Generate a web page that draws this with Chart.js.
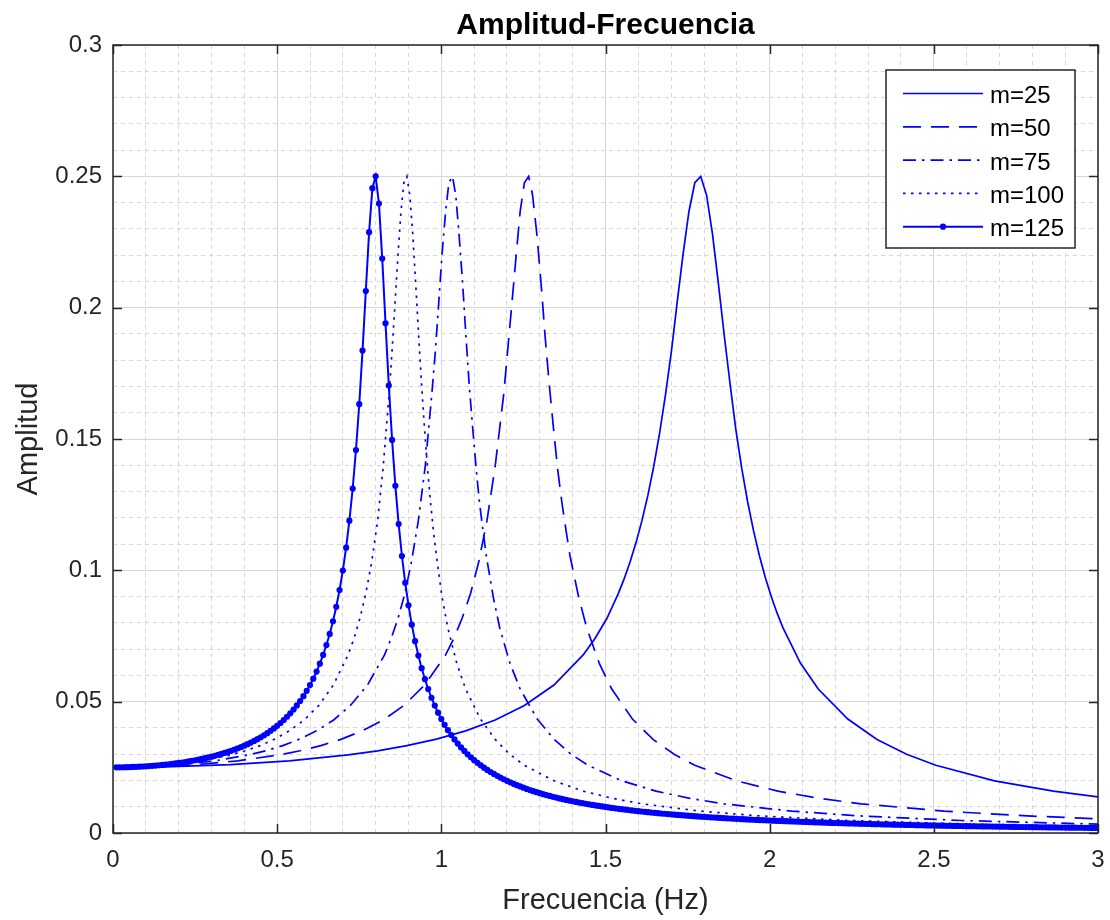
<!DOCTYPE html>
<html>
<head>
<meta charset="utf-8">
<title>Amplitud-Frecuencia</title>
<script src="https://cdn.jsdelivr.net/npm/chart.js"></script>
<style>
  html, body { margin: 0; padding: 0; background: #fff; }
  canvas { display: block; }
</style>
</head>
<body>
<canvas id="grafica" width="1110" height="920"></canvas>
<script>
// Valores (frecuencia en Hz, amplitud)
const etiquetas = ['m=25', 'm=50', 'm=75', 'm=100', 'm=125'];
const xTicks = [0, 0.5, 1, 1.5, 2, 2.5, 3];
const yTicks = [0, 0.05, 0.1, 0.15, 0.2, 0.25, 0.3];

const freq25 = [0.01, 0.179, 0.358, 0.537, 0.716, 0.806, 0.895, 0.985, 1.074, 1.164,
  1.253, 1.343, 1.432, 1.468, 1.504, 1.539, 1.557, 1.575, 1.593, 1.611,
  1.629, 1.647, 1.665, 1.683, 1.701, 1.718, 1.736, 1.754, 1.772, 1.790,
  1.808, 1.826, 1.844, 1.862, 1.880, 1.897, 1.915, 1.933, 1.951, 1.969,
  1.987, 2.005, 2.023, 2.041, 2.094, 2.148, 2.238, 2.327, 2.417, 2.506,
  2.685, 2.864, 3.0];
const amp25 = [0.02500, 0.02525, 0.02604, 0.02746, 0.02973, 0.03130, 0.03326, 0.03573, 0.03889, 0.04302,
  0.04856, 0.05632, 0.06779, 0.07403, 0.08166, 0.09116, 0.09682, 0.10324, 0.11055, 0.11891,
  0.12853, 0.13963, 0.15242, 0.16709, 0.18365, 0.20170, 0.22009, 0.23652, 0.24757, 0.25000,
  0.24277, 0.22787, 0.20893, 0.18912, 0.17037, 0.15354, 0.13879, 0.12602, 0.11500, 0.10546,
  0.09717, 0.08994, 0.08359, 0.07799, 0.06460, 0.05482, 0.04339, 0.03561, 0.02999, 0.02577,
  0.01986, 0.01594, 0.01377];

const freq50 = [0.01, 0.127, 0.253, 0.380, 0.506, 0.570, 0.633, 0.696, 0.759, 0.823,
  0.886, 0.949, 1.013, 1.038, 1.063, 1.089, 1.114, 1.139, 1.164, 1.190,
  1.202, 1.215, 1.228, 1.240, 1.253, 1.266, 1.278, 1.291, 1.304, 1.316,
  1.329, 1.342, 1.354, 1.367, 1.380, 1.392, 1.418, 1.443, 1.481, 1.519,
  1.582, 1.645, 1.709, 1.772, 1.899, 2.025, 2.152, 2.278, 2.531, 2.785, 3.0];
const amp50 = [0.02500, 0.02525, 0.02604, 0.02746, 0.02973, 0.03130, 0.03326, 0.03573, 0.03889, 0.04302,
  0.04856, 0.05632, 0.06779, 0.07403, 0.08166, 0.09116, 0.10324, 0.11891, 0.13963, 0.16709,
  0.18365, 0.20170, 0.22009, 0.23652, 0.24757, 0.25000, 0.24277, 0.22787, 0.20893, 0.18912,
  0.17037, 0.15354, 0.13879, 0.12602, 0.11500, 0.10546, 0.08994, 0.07799, 0.06460, 0.05482,
  0.04339, 0.03561, 0.02999, 0.02577, 0.01986, 0.01594, 0.01317, 0.01112, 0.00832, 0.00650, 0.00541];

const freq75 = [0.01, 0.103, 0.207, 0.310, 0.413, 0.465, 0.517, 0.568, 0.620, 0.672,
  0.723, 0.775, 0.827, 0.847, 0.868, 0.889, 0.909, 0.930, 0.951, 0.971,
  0.982, 0.992, 1.002, 1.013, 1.023, 1.034, 1.044, 1.054, 1.065, 1.075,
  1.085, 1.096, 1.106, 1.116, 1.127, 1.137, 1.158, 1.178, 1.209, 1.240,
  1.292, 1.344, 1.395, 1.447, 1.550, 1.654, 1.757, 1.860, 2.067, 2.274, 2.584, 3.0];
const amp75 = [0.02500, 0.02525, 0.02604, 0.02746, 0.02973, 0.03130, 0.03326, 0.03573, 0.03889, 0.04302,
  0.04856, 0.05632, 0.06779, 0.07403, 0.08166, 0.09116, 0.10324, 0.11891, 0.13963, 0.16709,
  0.18365, 0.20170, 0.22009, 0.23652, 0.24757, 0.25000, 0.24277, 0.22787, 0.20893, 0.18912,
  0.17037, 0.15354, 0.13879, 0.12602, 0.11500, 0.10546, 0.08994, 0.07799, 0.06460, 0.05482,
  0.04339, 0.03561, 0.02999, 0.02577, 0.01986, 0.01594, 0.01317, 0.01112, 0.00832, 0.00650, 0.00476, 0.00336];

const freq100 = [0.01, 0.090, 0.179, 0.269, 0.358, 0.403, 0.448, 0.492, 0.537, 0.582,
  0.627, 0.671, 0.716, 0.734, 0.752, 0.770, 0.788, 0.806, 0.823, 0.841,
  0.850, 0.859, 0.868, 0.877, 0.886, 0.895, 0.904, 0.913, 0.922, 0.931,
  0.940, 0.949, 0.958, 0.967, 0.976, 0.985, 1.002, 1.020, 1.047, 1.074,
  1.119, 1.164, 1.208, 1.253, 1.343, 1.432, 1.522, 1.611, 1.790, 1.969, 2.238, 2.685, 3.0];
const amp100 = [0.02500, 0.02525, 0.02604, 0.02746, 0.02973, 0.03130, 0.03326, 0.03573, 0.03889, 0.04302,
  0.04856, 0.05632, 0.06779, 0.07403, 0.08166, 0.09116, 0.10324, 0.11891, 0.13963, 0.16709,
  0.18365, 0.20170, 0.22009, 0.23652, 0.24757, 0.25000, 0.24277, 0.22787, 0.20893, 0.18912,
  0.17037, 0.15354, 0.13879, 0.12602, 0.11500, 0.10546, 0.08994, 0.07799, 0.06460, 0.05482,
  0.04339, 0.03561, 0.02999, 0.02577, 0.01986, 0.01594, 0.01317, 0.01112, 0.00832, 0.00650, 0.00476, 0.00312, 0.00244];

const freq125 = [0.01, 0.02, 0.03, 0.04, 0.05, 0.06, 0.07, 0.08, 0.09, 0.10,
  0.11, 0.12, 0.13, 0.14, 0.15, 0.16, 0.17, 0.18, 0.19, 0.20,
  0.21, 0.22, 0.23, 0.24, 0.25, 0.26, 0.27, 0.28, 0.29, 0.30,
  0.31, 0.32, 0.33, 0.34, 0.35, 0.36, 0.37, 0.38, 0.39, 0.40,
  0.41, 0.42, 0.43, 0.44, 0.45, 0.46, 0.47, 0.48, 0.49, 0.50,
  0.51, 0.52, 0.53, 0.54, 0.55, 0.56, 0.57, 0.58, 0.59, 0.60,
  0.61, 0.62, 0.63, 0.64, 0.65, 0.66, 0.67, 0.68, 0.69, 0.70,
  0.71, 0.72, 0.73, 0.74, 0.75, 0.76, 0.77, 0.78, 0.79, 0.80,
  0.81, 0.82, 0.83, 0.84, 0.85, 0.86, 0.87, 0.88, 0.89, 0.90,
  0.91, 0.92, 0.93, 0.94, 0.95, 0.96, 0.97, 0.98, 0.99, 1.00,
  1.01, 1.02, 1.03, 1.04, 1.05, 1.06, 1.07, 1.08, 1.09, 1.10,
  1.11, 1.12, 1.13, 1.14, 1.15, 1.16, 1.17, 1.18, 1.19, 1.20,
  1.21, 1.22, 1.23, 1.24, 1.25, 1.26, 1.27, 1.28, 1.29, 1.30,
  1.31, 1.32, 1.33, 1.34, 1.35, 1.36, 1.37, 1.38, 1.39, 1.40,
  1.41, 1.42, 1.43, 1.44, 1.45, 1.46, 1.47, 1.48, 1.49, 1.50,
  1.51, 1.52, 1.53, 1.54, 1.55, 1.56, 1.57, 1.58, 1.59, 1.60,
  1.61, 1.62, 1.63, 1.64, 1.65, 1.66, 1.67, 1.68, 1.69, 1.70,
  1.71, 1.72, 1.73, 1.74, 1.75, 1.76, 1.77, 1.78, 1.79, 1.80,
  1.81, 1.82, 1.83, 1.84, 1.85, 1.86, 1.87, 1.88, 1.89, 1.90,
  1.91, 1.92, 1.93, 1.94, 1.95, 1.96, 1.97, 1.98, 1.99, 2.00,
  2.01, 2.02, 2.03, 2.04, 2.05, 2.06, 2.07, 2.08, 2.09, 2.10,
  2.11, 2.12, 2.13, 2.14, 2.15, 2.16, 2.17, 2.18, 2.19, 2.20,
  2.21, 2.22, 2.23, 2.24, 2.25, 2.26, 2.27, 2.28, 2.29, 2.30,
  2.31, 2.32, 2.33, 2.34, 2.35, 2.36, 2.37, 2.38, 2.39, 2.40,
  2.41, 2.42, 2.43, 2.44, 2.45, 2.46, 2.47, 2.48, 2.49, 2.50,
  2.51, 2.52, 2.53, 2.54, 2.55, 2.56, 2.57, 2.58, 2.59, 2.60,
  2.61, 2.62, 2.63, 2.64, 2.65, 2.66, 2.67, 2.68, 2.69, 2.70,
  2.71, 2.72, 2.73, 2.74, 2.75, 2.76, 2.77, 2.78, 2.79, 2.80,
  2.81, 2.82, 2.83, 2.84, 2.85, 2.86, 2.87, 2.88, 2.89, 2.90,
  2.91, 2.92, 2.93, 2.94, 2.95, 2.96, 2.97, 2.98, 2.99, 3.00];
const amp125 = [0.02500, 0.02502, 0.02504, 0.02506, 0.02510, 0.02514, 0.02519, 0.02525, 0.02532, 0.02540,
  0.02548, 0.02557, 0.02568, 0.02579, 0.02591, 0.02604, 0.02618, 0.02633, 0.02649, 0.02666,
  0.02684, 0.02703, 0.02724, 0.02746, 0.02769, 0.02793, 0.02819, 0.02847, 0.02876, 0.02906,
  0.02939, 0.02973, 0.03009, 0.03047, 0.03087, 0.03130, 0.03175, 0.03222, 0.03273, 0.03326,
  0.03382, 0.03442, 0.03506, 0.03573, 0.03645, 0.03721, 0.03802, 0.03889, 0.03982, 0.04081,
  0.04188, 0.04302, 0.04425, 0.04558, 0.04701, 0.04856, 0.05025, 0.05210, 0.05411, 0.05632,
  0.05876, 0.06145, 0.06445, 0.06779, 0.07155, 0.07579, 0.08062, 0.08614, 0.09251, 0.09993,
  0.10863, 0.11891, 0.13116, 0.14580, 0.16325, 0.18365, 0.20634, 0.22875, 0.24551, 0.25000,
  0.23962, 0.21868, 0.19403, 0.17037, 0.14966, 0.13218, 0.11760, 0.10546, 0.09527, 0.08667,
  0.07933, 0.07302, 0.06754, 0.06276, 0.05855, 0.05482, 0.05149, 0.04851, 0.04582, 0.04339,
  0.04117, 0.03916, 0.03731, 0.03561, 0.03404, 0.03259, 0.03124, 0.02999, 0.02883, 0.02774,
  0.02672, 0.02577, 0.02487, 0.02403, 0.02323, 0.02248, 0.02177, 0.02110, 0.02046, 0.01986,
  0.01928, 0.01874, 0.01821, 0.01772, 0.01724, 0.01679, 0.01636, 0.01594, 0.01555, 0.01516,
  0.01480, 0.01445, 0.01411, 0.01379, 0.01347, 0.01317, 0.01289, 0.01261, 0.01234, 0.01208,
  0.01183, 0.01159, 0.01135, 0.01113, 0.01091, 0.01069, 0.01049, 0.01029, 0.01010, 0.00991,
  0.00973, 0.00955, 0.00938, 0.00922, 0.00906, 0.00890, 0.00875, 0.00860, 0.00846, 0.00832,
  0.00818, 0.00805, 0.00792, 0.00779, 0.00767, 0.00755, 0.00743, 0.00732, 0.00721, 0.00710,
  0.00699, 0.00689, 0.00679, 0.00669, 0.00659, 0.00650, 0.00641, 0.00632, 0.00623, 0.00614,
  0.00606, 0.00598, 0.00590, 0.00582, 0.00574, 0.00567, 0.00559, 0.00552, 0.00545, 0.00538,
  0.00531, 0.00525, 0.00518, 0.00512, 0.00505, 0.00499, 0.00493, 0.00487, 0.00481, 0.00476,
  0.00470, 0.00465, 0.00460, 0.00454, 0.00449, 0.00444, 0.00439, 0.00434, 0.00429, 0.00424,
  0.00420, 0.00415, 0.00411, 0.00406, 0.00402, 0.00397, 0.00393, 0.00389, 0.00385, 0.00381,
  0.00377, 0.00373, 0.00369, 0.00366, 0.00362, 0.00358, 0.00355, 0.00351, 0.00348, 0.00344,
  0.00341, 0.00337, 0.00334, 0.00331, 0.00328, 0.00325, 0.00322, 0.00318, 0.00316, 0.00313,
  0.00310, 0.00307, 0.00304, 0.00301, 0.00298, 0.00296, 0.00293, 0.00290, 0.00288, 0.00285,
  0.00283, 0.00280, 0.00278, 0.00275, 0.00273, 0.00271, 0.00268, 0.00266, 0.00264, 0.00261,
  0.00259, 0.00257, 0.00255, 0.00253, 0.00251, 0.00249, 0.00247, 0.00245, 0.00243, 0.00241,
  0.00239, 0.00237, 0.00235, 0.00233, 0.00231, 0.00229, 0.00228, 0.00226, 0.00224, 0.00222,
  0.00221, 0.00219, 0.00217, 0.00216, 0.00214, 0.00212, 0.00211, 0.00209, 0.00208, 0.00206,
  0.00204, 0.00203, 0.00201, 0.00200, 0.00199, 0.00197, 0.00196, 0.00194, 0.00193, 0.00191];

const FUENTE = '"Liberation Sans", Arial, Helvetica, sans-serif';
const AZUL = '#0000ff';
const GRIS = '#262626';

Chart.defaults.font.family = FUENTE;
Chart.defaults.color = GRIS;

const puntos = (fs, as) => fs.map((f, i) => ({ x: f, y: as[i] }));
const esMayor = (v, lista) => v !== undefined && lista.some(t => Math.abs(t - v) < 1e-6);

// marco con ticks hacia dentro (estilo MATLAB)
const marcoPlugin = {
    id: 'marco',
    afterDraw(chart) {
        const { ctx, chartArea: a, scales: { x, y } } = chart;
        ctx.save();
        ctx.strokeStyle = GRIS;
        ctx.lineWidth = 1.5;
        ctx.beginPath();
        xTicks.forEach(v => {
            const px = Math.round(x.getPixelForValue(v)) + 0.5;
            ctx.moveTo(px, a.bottom); ctx.lineTo(px, a.bottom - 9);
            ctx.moveTo(px, a.top); ctx.lineTo(px, a.top + 9);
        });
        yTicks.forEach(v => {
            const py = Math.round(y.getPixelForValue(v)) + 0.5;
            ctx.moveTo(a.left, py); ctx.lineTo(a.left + 9, py);
            ctx.moveTo(a.right, py); ctx.lineTo(a.right - 9, py);
        });
        ctx.stroke();
        ctx.strokeRect(a.left, a.top, a.right - a.left, a.bottom - a.top);
        ctx.restore();
    }
};

// leyenda dentro del area, esquina superior derecha
const leyendaPlugin = {
    id: 'leyenda',
    afterDraw(chart) {
        const { ctx, chartArea: a } = chart;
        const w = 189, h = 178;
        const left = a.right - 23 - w;
        const top = a.top + 25;
        ctx.save();
        ctx.fillStyle = '#fff';
        ctx.fillRect(left, top, w, h);
        ctx.strokeStyle = GRIS;
        ctx.lineWidth = 1.5;
        ctx.strokeRect(left, top, w, h);
        chart.data.datasets.forEach((ds, i) => {
            const yy = top + 23.5 + i * 33.3;
            ctx.strokeStyle = ds.borderColor;
            ctx.lineWidth = ds.borderWidth;
            ctx.setLineDash(ds.borderDash || []);
            ctx.beginPath();
            ctx.moveTo(left + 17, yy);
            ctx.lineTo(left + 97, yy);
            ctx.stroke();
            ctx.setLineDash([]);
            if (ds.pointRadius > 0) {
                ctx.fillStyle = ds.borderColor;
                ctx.beginPath();
                ctx.arc(left + 57, yy, ds.pointRadius, 0, Math.PI * 2);
                ctx.fill();
            }
            ctx.fillStyle = '#000';
            ctx.font = '24px ' + FUENTE;
            ctx.textBaseline = 'middle';
            ctx.textAlign = 'left';
            ctx.fillText(ds.label, left + 104, yy + 3);
        });
        ctx.restore();
    }
};

const serie = (label, fs, as, dash, ancho, radio) => ({
    label: label,
    data: puntos(fs, as),
    borderColor: AZUL,
    backgroundColor: AZUL,
    borderWidth: ancho,
    borderDash: dash,
    pointRadius: radio,
    pointHoverRadius: radio,
    pointBorderWidth: 0,
    pointBackgroundColor: AZUL,
    fill: false,
    tension: 0
});

const ctx = document.getElementById('grafica').getContext('2d');
const grafica = new Chart(ctx, {
    type: 'line',
    data: {
        datasets: [
            serie(etiquetas[0], freq25, amp25, [], 1.7, 0),
            serie(etiquetas[1], freq50, amp50, [18, 10], 1.7, 0),
            serie(etiquetas[2], freq75, amp75, [13, 6, 2.5, 6], 1.7, 0),
            serie(etiquetas[3], freq100, amp100, [2.5, 5.5], 1.7, 0),
            serie(etiquetas[4], freq125, amp125, [], 2, 3.1)
        ]
    },
    options: {
        responsive: false,
        animation: false,
        layout: { padding: { left: 0, right: 12, top: 0, bottom: 0 } },
        plugins: {
            legend: { display: false },
            tooltip: { enabled: false },
            title: {
                display: true,
                fullSize: false,
                text: 'Amplitud-Frecuencia',
                color: '#000',
                font: { size: 30, weight: 'bold' },
                padding: { top: 8, bottom: 1 }
            }
        },
        scales: {
            x: {
                type: 'linear',
                min: 0,
                max: 3,
                afterFit: (s) => { s.height = 87; s.paddingLeft = 0; s.paddingRight = 0; },
                ticks: {
                    stepSize: 0.1,
                    maxTicksLimit: 100,
                    autoSkip: false,
                    maxRotation: 0,
                    padding: 13,
                    color: GRIS,
                    font: { size: 24 },
                    callback: (v) => esMayor(v, xTicks) ? String(Math.round(v * 10) / 10) : ''
                },
                grid: {
                    drawTicks: false,
                    lineWidth: 1,
                    color: (c) => esMayor(c.tick && c.tick.value, xTicks) ? '#d8d8d8' : '#d6d6d6'
                },
                border: {
                    display: false,
                    dash: (c) => esMayor(c.tick && c.tick.value, xTicks) ? [] : [4, 4]
                },
                title: {
                    display: true,
                    text: 'Frecuencia (Hz)',
                    color: GRIS,
                    font: { size: 29 },
                    padding: { top: 0, bottom: 2 }
                }
            },
            y: {
                min: 0,
                max: 0.3,
                afterFit: (s) => { s.width = 113; },
                ticks: {
                    stepSize: 0.01,
                    maxTicksLimit: 100,
                    autoSkip: false,
                    padding: 11,
                    color: GRIS,
                    font: { size: 24 },
                    callback: (v) => esMayor(v, yTicks) ? String(Math.round(v * 100) / 100) : ''
                },
                grid: {
                    drawTicks: false,
                    lineWidth: 1,
                    color: (c) => esMayor(c.tick && c.tick.value, yTicks) ? '#d8d8d8' : '#d6d6d6'
                },
                border: {
                    display: false,
                    dash: (c) => esMayor(c.tick && c.tick.value, yTicks) ? [] : [4, 4]
                },
                title: {
                    display: true,
                    text: 'Amplitud',
                    color: GRIS,
                    font: { size: 29 },
                    padding: { top: 12, bottom: 0 }
                }
            }
        }
    },
    plugins: [marcoPlugin, leyendaPlugin]
});
</script>
</body>
</html>
